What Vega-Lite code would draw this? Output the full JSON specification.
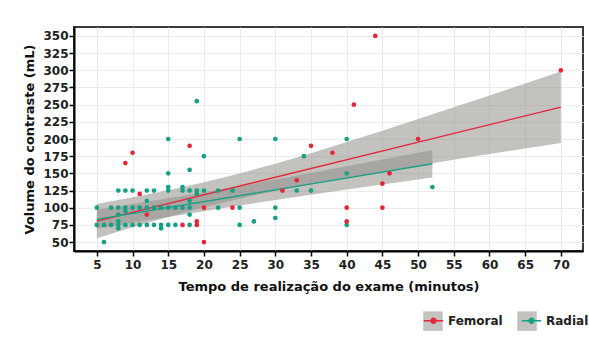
{
  "$schema": "https://vega.github.io/schema/vega-lite/v6.json",
  "width": 509,
  "height": 224,
  "autosize": {"type": "none"},
  "padding": {"left": 74, "top": 27, "right": 6, "bottom": 87},
  "background": "white",
  "config": {
    "view": {"stroke": "#3a3a3a", "strokeWidth": 2},
    "font": "DejaVu Sans",
    "axis": {
      "grid": true,
      "gridColor": "#ececec",
      "gridWidth": 1,
      "domainColor": "#000000",
      "domainWidth": 2,
      "tickColor": "#000000",
      "tickWidth": 1.5,
      "tickSize": 5,
      "labelFont": "DejaVu Sans",
      "labelFontWeight": "bold",
      "labelFontSize": 12,
      "labelColor": "#222222",
      "labelOverlap": false,
      "titleFont": "DejaVu Sans",
      "titleFontWeight": "bold",
      "titleFontSize": 13,
      "titleColor": "#111111",
      "labelFlush": false
    }
  },
  "datasets": {
    "pts": [
      {"t": 6, "v": 50, "g": "Radial"},
      {"t": 5, "v": 75, "g": "Radial"}, {"t": 6, "v": 75, "g": "Radial"}, {"t": 7, "v": 75, "g": "Radial"},
      {"t": 8, "v": 75, "g": "Radial"}, {"t": 8, "v": 70, "g": "Radial"}, {"t": 8, "v": 80, "g": "Radial"},
      {"t": 9, "v": 75, "g": "Radial"}, {"t": 10, "v": 75, "g": "Radial"}, {"t": 11, "v": 75, "g": "Radial"},
      {"t": 12, "v": 75, "g": "Radial"}, {"t": 13, "v": 75, "g": "Radial"}, {"t": 14, "v": 75, "g": "Radial"},
      {"t": 14, "v": 70, "g": "Radial"}, {"t": 15, "v": 75, "g": "Radial"}, {"t": 16, "v": 75, "g": "Radial"},
      {"t": 18, "v": 75, "g": "Radial"}, {"t": 25, "v": 75, "g": "Radial"}, {"t": 40, "v": 75, "g": "Radial"},
      {"t": 27, "v": 80, "g": "Radial"}, {"t": 30, "v": 85, "g": "Radial"}, {"t": 18, "v": 90, "g": "Radial"},
      {"t": 8, "v": 90, "g": "Radial"}, {"t": 9, "v": 95, "g": "Radial"},
      {"t": 5, "v": 100, "g": "Radial"}, {"t": 7, "v": 100, "g": "Radial"}, {"t": 8, "v": 100, "g": "Radial"},
      {"t": 9, "v": 100, "g": "Radial"}, {"t": 10, "v": 100, "g": "Radial"}, {"t": 11, "v": 100, "g": "Radial"},
      {"t": 12, "v": 100, "g": "Radial"}, {"t": 13, "v": 100, "g": "Radial"}, {"t": 14, "v": 100, "g": "Radial"},
      {"t": 15, "v": 100, "g": "Radial"}, {"t": 16, "v": 100, "g": "Radial"}, {"t": 17, "v": 100, "g": "Radial"},
      {"t": 18, "v": 100, "g": "Radial"}, {"t": 22, "v": 100, "g": "Radial"}, {"t": 25, "v": 100, "g": "Radial"},
      {"t": 30, "v": 100, "g": "Radial"},
      {"t": 12, "v": 110, "g": "Radial"}, {"t": 18, "v": 110, "g": "Radial"},
      {"t": 8, "v": 125, "g": "Radial"}, {"t": 9, "v": 125, "g": "Radial"}, {"t": 10, "v": 125, "g": "Radial"},
      {"t": 12, "v": 125, "g": "Radial"}, {"t": 13, "v": 125, "g": "Radial"}, {"t": 15, "v": 125, "g": "Radial"},
      {"t": 15, "v": 130, "g": "Radial"}, {"t": 17, "v": 125, "g": "Radial"}, {"t": 17, "v": 130, "g": "Radial"},
      {"t": 18, "v": 125, "g": "Radial"}, {"t": 19, "v": 125, "g": "Radial"}, {"t": 19, "v": 120, "g": "Radial"},
      {"t": 20, "v": 125, "g": "Radial"}, {"t": 22, "v": 125, "g": "Radial"}, {"t": 24, "v": 125, "g": "Radial"},
      {"t": 33, "v": 125, "g": "Radial"}, {"t": 35, "v": 125, "g": "Radial"}, {"t": 52, "v": 130, "g": "Radial"},
      {"t": 15, "v": 150, "g": "Radial"}, {"t": 40, "v": 150, "g": "Radial"}, {"t": 18, "v": 155, "g": "Radial"},
      {"t": 20, "v": 175, "g": "Radial"}, {"t": 34, "v": 175, "g": "Radial"},
      {"t": 15, "v": 200, "g": "Radial"}, {"t": 25, "v": 200, "g": "Radial"}, {"t": 30, "v": 200, "g": "Radial"},
      {"t": 40, "v": 200, "g": "Radial"}, {"t": 19, "v": 255, "g": "Radial"},
      {"t": 9, "v": 165, "g": "Femoral"}, {"t": 10, "v": 180, "g": "Femoral"}, {"t": 11, "v": 120, "g": "Femoral"},
      {"t": 12, "v": 90, "g": "Femoral"}, {"t": 17, "v": 75, "g": "Femoral"}, {"t": 18, "v": 190, "g": "Femoral"},
      {"t": 19, "v": 75, "g": "Femoral"}, {"t": 19, "v": 80, "g": "Femoral"}, {"t": 20, "v": 100, "g": "Femoral"},
      {"t": 20, "v": 50, "g": "Femoral"}, {"t": 24, "v": 100, "g": "Femoral"}, {"t": 31, "v": 125, "g": "Femoral"},
      {"t": 33, "v": 140, "g": "Femoral"}, {"t": 35, "v": 190, "g": "Femoral"}, {"t": 38, "v": 180, "g": "Femoral"},
      {"t": 40, "v": 100, "g": "Femoral"}, {"t": 40, "v": 80, "g": "Femoral"}, {"t": 41, "v": 250, "g": "Femoral"},
      {"t": 44, "v": 350, "g": "Femoral"}, {"t": 45, "v": 135, "g": "Femoral"}, {"t": 45, "v": 100, "g": "Femoral"},
      {"t": 46, "v": 150, "g": "Femoral"}, {"t": 50, "v": 200, "g": "Femoral"}, {"t": 70, "v": 300, "g": "Femoral"}
    ],
    "fit": [
      {"t": 5, "v": 80.5, "g": "Femoral"}, {"t": 70, "v": 246.3, "g": "Femoral"},
      {"t": 5, "v": 83, "g": "Radial"}, {"t": 52, "v": 164, "g": "Radial"}
    ],
    "band": [
      {"t": 5, "lo": 55.5, "hi": 105.5, "g": "Femoral"},
      {"t": 10, "lo": 71.5, "hi": 115.1, "g": "Femoral"},
      {"t": 15, "lo": 86.6, "hi": 125.4, "g": "Femoral"},
      {"t": 20, "lo": 100.6, "hi": 137, "g": "Femoral"},
      {"t": 25, "lo": 113.2, "hi": 149.8, "g": "Femoral"},
      {"t": 30, "lo": 124.5, "hi": 164.1, "g": "Femoral"},
      {"t": 35, "lo": 134.6, "hi": 179.4, "g": "Femoral"},
      {"t": 40, "lo": 144.1, "hi": 195.5, "g": "Femoral"},
      {"t": 45, "lo": 153, "hi": 212, "g": "Femoral"},
      {"t": 50, "lo": 161.6, "hi": 229, "g": "Femoral"},
      {"t": 55, "lo": 169.9, "hi": 246.1, "g": "Femoral"},
      {"t": 60, "lo": 178.2, "hi": 263.4, "g": "Femoral"},
      {"t": 65, "lo": 186.2, "hi": 280.8, "g": "Femoral"},
      {"t": 70, "lo": 194.3, "hi": 298.3, "g": "Femoral"},
      {"t": 5, "lo": 69, "hi": 97, "g": "Radial"},
      {"t": 10, "lo": 78, "hi": 105.3, "g": "Radial"},
      {"t": 15, "lo": 86.6, "hi": 113.8, "g": "Radial"},
      {"t": 20, "lo": 95, "hi": 122.6, "g": "Radial"},
      {"t": 25, "lo": 103.3, "hi": 131.7, "g": "Radial"},
      {"t": 30, "lo": 111.2, "hi": 141, "g": "Radial"},
      {"t": 35, "lo": 118.9, "hi": 150.5, "g": "Radial"},
      {"t": 40, "lo": 126.4, "hi": 160.2, "g": "Radial"},
      {"t": 45, "lo": 133.8, "hi": 170, "g": "Radial"},
      {"t": 50, "lo": 141.2, "hi": 180, "g": "Radial"},
      {"t": 52, "lo": 144, "hi": 184, "g": "Radial"}
    ]
  },
  "layer": [
    {
      "data": {"name": "band"},
      "mark": {"type": "area", "opacity": 0.55},
      "encoding": {
        "x": {
          "field": "t", "type": "quantitative",
          "scale": {"domain": [1.8, 73.1], "nice": false, "zero": false},
          "axis": {
            "values": [5, 10, 15, 20, 25, 30, 35, 40, 45, 50, 55, 60, 65, 70],
            "tickCount": 30,
            "title": "Tempo de realização do exame (minutos)",
            "labelOverlap": false,
            "labelPadding": 3,
            "titlePadding": 10
          }
        },
        "y": {
          "field": "lo", "type": "quantitative",
          "scale": {"domain": [37, 363], "nice": false, "zero": false},
          "axis": {
            "values": [50, 75, 100, 125, 150, 175, 200, 225, 250, 275, 300, 325, 350],
            "tickCount": 30,
            "title": "Volume do contraste (mL)",
            "labelOverlap": false,
            "labelPadding": 1,
            "titlePadding": 6
          }
        },
        "y2": {"field": "hi"},
        "fill": {
          "field": "g", "type": "nominal",
          "scale": {"range": ["#928f8a", "#928f8a"]},
          "legend": {
            "orient": "none", "legendX": 349, "legendY": 283, "direction": "horizontal",
            "title": "Procedimento", "titleOpacity": 0, "titleFontSize": 1, "titlePadding": 0,
            "symbolType": "square", "symbolSize": 380, "symbolOpacity": 0.55,
            "symbolStrokeWidth": 0, "labelExpr": "''", "labelFontSize": 12, "labelOffset": 4,
            "columnPadding": 70, "zindex": 0
          }
        }
      }
    },
    {
      "data": {"name": "fit"},
      "mark": {"type": "line", "strokeWidth": 1.3},
      "encoding": {
        "x": {"field": "t", "type": "quantitative"},
        "y": {"field": "v", "type": "quantitative"},
        "color": {
          "field": "g", "type": "nominal",
          "scale": {"domain": ["Femoral", "Radial"], "range": ["#e3263b", "#17a085"]},
          "legend": {
            "orient": "none", "legendX": 349, "legendY": 283, "direction": "horizontal",
            "title": null,
            "symbolType": "M-1,0H1M-0.26,0A0.26,0.26,0,1,1,0.26,0A0.26,0.26,0,1,1,-0.26,0",
            "symbolSize": 380, "symbolStrokeWidth": 1.3, "symbolOpacity": 1,
            "labelFontSize": 12, "labelFontWeight": "bold", "labelFont": "DejaVu Sans",
            "labelColor": "#222222", "labelOffset": 4, "columnPadding": 16, "zindex": 2,
            "encode": {"symbols": {"update": {"fill": {"scale": "color", "field": "value"}, "stroke": {"scale": "color", "field": "value"}}}}
          }
        }
      }
    },
    {
      "data": {"name": "pts"},
      "mark": {"type": "circle", "size": 22, "opacity": 1},
      "encoding": {
        "x": {"field": "t", "type": "quantitative"},
        "y": {"field": "v", "type": "quantitative"},
        "color": {
          "field": "g", "type": "nominal",
          "legend": {
            "orient": "none", "legendX": 349, "legendY": 283, "direction": "horizontal",
            "title": null,
            "symbolType": "M-1,0H1M-0.26,0A0.26,0.26,0,1,1,0.26,0A0.26,0.26,0,1,1,-0.26,0",
            "symbolSize": 380, "symbolStrokeWidth": 1.3, "symbolOpacity": 1,
            "labelFontSize": 12, "labelFontWeight": "bold", "labelFont": "DejaVu Sans",
            "labelColor": "#222222", "labelOffset": 4, "columnPadding": 16, "zindex": 2,
            "encode": {"symbols": {"update": {"fill": {"scale": "color", "field": "value"}, "stroke": {"scale": "color", "field": "value"}}}}
          }
        }
      }
    }
  ]
}
